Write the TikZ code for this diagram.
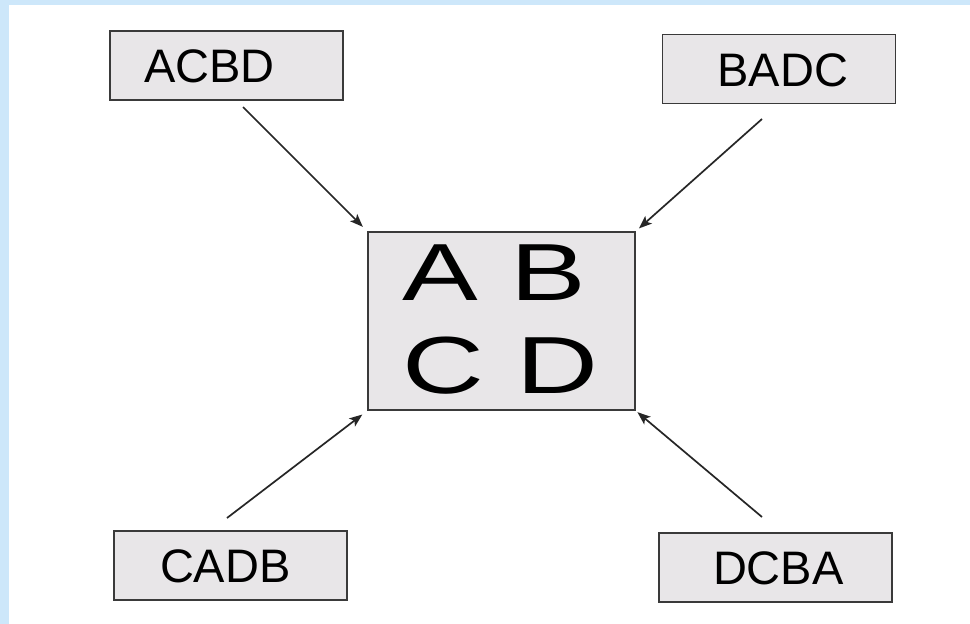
\documentclass[tikz,border=0pt]{standalone}
\usepackage{fontspec}
\setmainfont{Liberation Sans}
\newfontfamily\widefont[FakeStretch=1.4]{Liberation Sans}
\usetikzlibrary{arrows.meta}

\definecolor{frameblue}{HTML}{CDE7FA}
\definecolor{tilegray}{HTML}{E8E6E8}
\definecolor{edgegray}{HTML}{3A3A3A}
\definecolor{feedgray}{HTML}{262626}

\tikzset{
  tile/.style={draw=edgegray,line width=1.8pt,fill=tilegray,inner sep=0pt,
    text width=233pt,align=left,minimum height=69pt,
    text height=34pt,text depth=0pt,font=\fontsize{47}{56}\selectfont},
  board/.style={draw=edgegray,line width=1.8pt,fill=tilegray,inner sep=0pt,
    text width=267pt,align=left,minimum height=178pt,
    text height=58pt,text depth=100pt,font=\widefont\fontsize{81}{93}\selectfont},
  feed/.style={draw=feedgray,line width=1.7pt,-{Stealth[length=13pt,width=10pt,inset=3pt]}}
}

\begin{document}
\begin{tikzpicture}[x=1pt,y=-1pt]

\useasboundingbox (0,0) rectangle (970,624);

% The light blue frame on the left and top
\fill[frameblue] (0,0) rectangle (970,624);
\fill[white] (9,5) rectangle (970,624);

% The board in the middle
\node[board] (centre) at (501.5,321)
  {\hspace*{34pt}A \kern6pt B\\\hspace*{34pt}C \kern6pt D};

% The four orderings round it
\node[tile] (acbd) at (226.5,65.5) {\hspace*{34pt}ACBD};
\node[tile] (badc) at (779,69) {\hspace*{55pt}BADC};
\node[tile] (cadb) at (230.5,565.5) {\hspace*{46pt}CADB};
\node[tile] (dcba) at (775.5,567.5) {\hspace*{54pt}DCBA};

% Where the arrows leave the tiles
\coordinate (acbd-out) at (243,107);
\coordinate (badc-out) at (762,119);
\coordinate (cadb-out) at (227,518);
\coordinate (dcba-out) at (762,517);

% Arrows into the corners of the board
\draw[feed,shorten >=6pt] (acbd-out) -- (centre.north west);
\draw[feed,shorten >=4pt] (badc-out) -- (centre.north east);
\draw[feed,shorten >=6pt] (cadb-out) -- (centre.south west);
\draw[feed,shorten >=2pt] (dcba-out) -- (centre.south east);

\end{tikzpicture}
\end{document}
